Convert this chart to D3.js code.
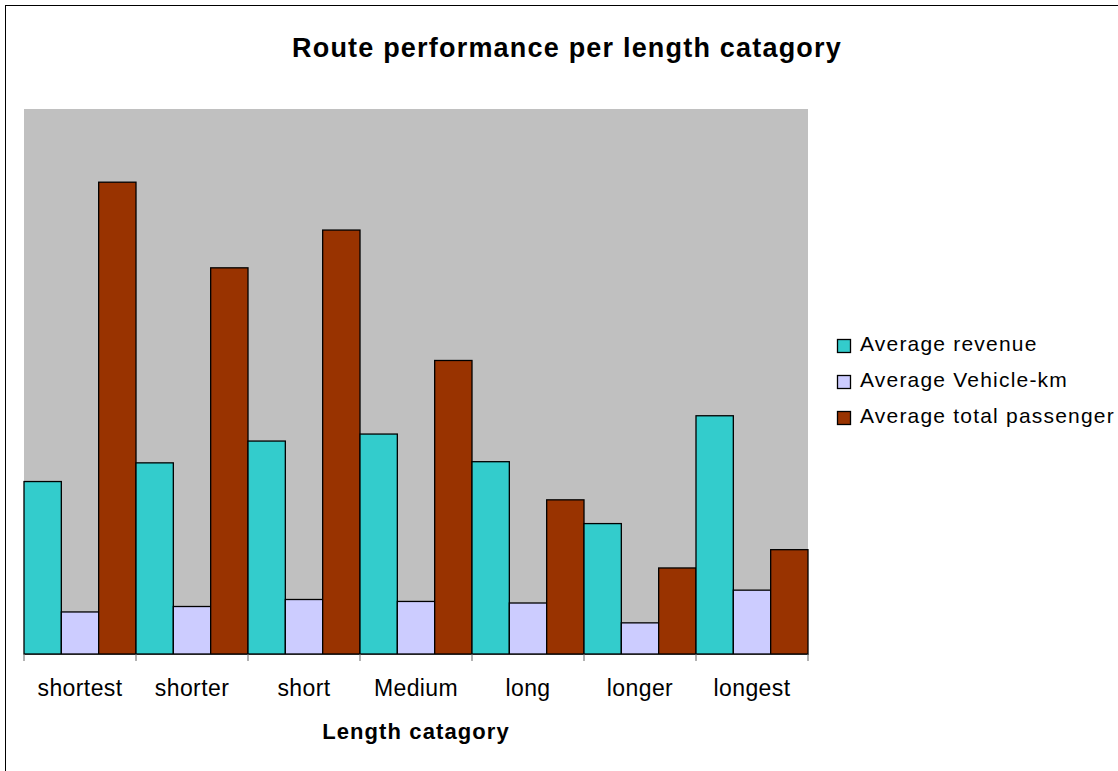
<!DOCTYPE html>
<html>
<head>
<meta charset="utf-8">
<script src="https://cdn.jsdelivr.net/npm/d3@7"></script>
<style>
  html, body { margin: 0; padding: 0; background: #fff; }
  svg { display: block; font-family: "Liberation Sans", Arial, sans-serif; }
</style>
</head>
<body>
<svg id="chart" width="1118" height="771"></svg>
<script>
// Length categories along the x axis
const categories = ["shortest", "shorter", "short", "Medium", "long", "longer", "longest"];

// Series names (legend order) and colours
const seriesNames = ["Average revenue", "Average Vehicle-km", "Average total passenger"];
const seriesColors = ["#33CCCC", "#CCCCFF", "#993300"];

// Series values per category
const avgRevenue    = [44.3, 49.1, 54.7, 56.5, 49.4, 33.5, 61.2];
const avgVehicleKm  = [10.8, 12.2, 14.0, 13.5, 13.1, 8.0, 16.4];
const avgPassengers = [121.2, 99.2, 108.9, 75.4, 39.6, 22.1, 26.8];

const yMax = 140;

const seriesValues = [avgRevenue, avgVehicleKm, avgPassengers];
const rows = categories.map((c, i) => ({
  category: c,
  values: seriesValues.map((vals, s) => ({ series: seriesNames[s], value: vals[i], idx: s }))
}));

const svg = d3.select("#chart");

// Layout
const plot = { left: 24, right: 808, top: 109, bottom: 654 };

// Outer chart frame (extends past the visible area on right/bottom)
svg.append("rect")
  .attr("x", 5.5).attr("y", 5.5)
  .attr("width", 1200).attr("height", 900)
  .attr("fill", "none").attr("stroke", "#000").attr("stroke-width", 1);

// Title
svg.append("text")
  .attr("x", 567).attr("y", 57)
  .attr("text-anchor", "middle")
  .attr("font-size", 27).attr("font-weight", "bold")
  .attr("letter-spacing", 1.2)
  .attr("fill", "#000")
  .text("Route performance per length catagory");

// Scales
const x0 = d3.scaleBand().domain(categories).range([plot.left, plot.right]).paddingInner(0).paddingOuter(0);
const x1 = d3.scaleBand().domain(d3.range(seriesNames.length)).range([0, x0.bandwidth()]).padding(0);
const y = d3.scaleLinear().domain([0, yMax]).range([plot.bottom, plot.top]);

// Plot background
svg.append("rect")
  .attr("x", plot.left).attr("y", plot.top)
  .attr("width", plot.right - plot.left).attr("height", plot.bottom - plot.top)
  .attr("fill", "#C0C0C0");

// Bars
const groups = svg.append("g").selectAll("g")
  .data(rows).join("g")
  .attr("transform", d => `translate(${x0(d.category)},0)`);

groups.selectAll("rect")
  .data(d => d.values).join("rect")
  .attr("x", d => x1(d.idx))
  .attr("y", d => y(d.value))
  .attr("width", x1.bandwidth())
  .attr("height", d => y(0) - y(d.value))
  .attr("fill", d => seriesColors[d.idx])
  .attr("stroke", "#000")
  .attr("stroke-width", 1.3);

// Category axis
const xAxis = d3.axisBottom(x0).tickSize(0).tickPadding(0);
const axisG = svg.append("g")
  .attr("transform", `translate(0,${plot.bottom})`)
  .call(xAxis);
axisG.select(".domain").attr("stroke", "#222").attr("stroke-width", 1.2);
axisG.selectAll(".tick text")
  .attr("y", 42).attr("dy", 0)
  .attr("font-size", 23)
  .attr("letter-spacing", 0.4)
  .attr("font-family", "Liberation Sans, Arial, sans-serif")
  .attr("fill", "#000");

// Tick marks on category boundaries
const boundaries = categories.map(c => x0(c)).concat([x0.range()[1]]);
svg.append("g").selectAll("line")
  .data(boundaries).join("line")
  .attr("x1", d => d).attr("x2", d => d)
  .attr("y1", plot.bottom).attr("y2", plot.bottom + 7)
  .attr("stroke", "#666").attr("stroke-width", 1);

// Axis title
svg.append("text")
  .attr("x", 416).attr("y", 739)
  .attr("text-anchor", "middle")
  .attr("font-size", 22).attr("font-weight", "bold")
  .attr("letter-spacing", 1.1)
  .attr("fill", "#000")
  .text("Length catagory");

// Legend
const legend = svg.append("g").selectAll("g")
  .data(seriesNames).join("g")
  .attr("transform", (d, i) => `translate(837,${339 + i * 36})`);
legend.append("rect")
  .attr("x", 0.5).attr("y", 0.5)
  .attr("width", 13).attr("height", 13)
  .attr("fill", (d, i) => seriesColors[i])
  .attr("stroke", "#000").attr("stroke-width", 1.3);
legend.append("text")
  .attr("x", 23).attr("y", 12)
  .attr("font-size", 21)
  .attr("letter-spacing", 1.2)
  .attr("fill", "#000")
  .text(d => d);
</script>
</body>
</html>
